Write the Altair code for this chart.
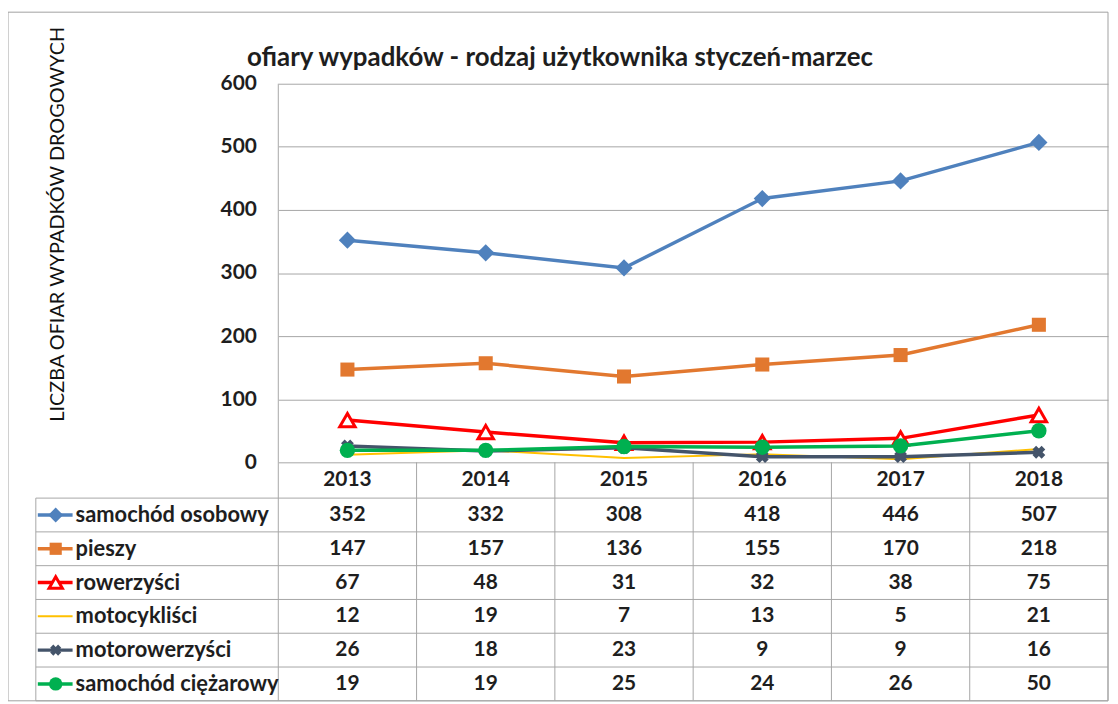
import altair as alt
import pandas as pd

# ---------------- data ----------------
years = [2013, 2014, 2015, 2016, 2017, 2018]
series = ["samochód osobowy", "pieszy", "rowerzyści", "motocykliści",
          "motorowerzyści", "samochód ciężarowy"]
v_osobowy = [352, 332, 308, 418, 446, 507]
v_pieszy = [147, 157, 136, 155, 170, 218]
v_rowerzysci = [67, 48, 31, 32, 38, 75]
v_motocyklisci = [12, 19, 7, 13, 5, 21]
v_motorowerzysci = [26, 18, 23, 9, 9, 16]
v_ciezarowy = [19, 19, 25, 24, 26, 50]
y_ticks = [0, 100, 200, 300, 400, 500, 600]
chart_title = "ofiary wypadków - rodzaj użytkownika styczeń-marzec"
y_title = "LICZBA OFIAR WYPADKÓW DROGOWYCH"

values = [v_osobowy, v_pieszy, v_rowerzysci, v_motocyklisci, v_motorowerzysci, v_ciezarowy]

# ---------------- styles ----------------
styles = [
    dict(color="#4F81BD", shape="diamond", size=300, sw=3.5),
    dict(color="#E2782F", shape="square", size=200, sw=3.5),
    dict(color="#FF0000", shape="triangle-up", size=240, sw=3.5, hollow=True),
    dict(color="#FFC000", shape=None, size=0, sw=2),
    dict(color="#44546A", shape="cross", size=170, sw=3.5, angle=45),
    dict(color="#00B050", shape="circle", size=240, sw=3.5),
]
FONT = "Lato"
TXT = "#1E1E1E"
GRID = "#A6A6A6"
FS = 21

# ---------------- layout (page pixels -> data units) ----------------
PL, PR = 280, 1115          # plot area left / right (page px)
PT, PB = 82, 463            # plot area top (600) / bottom (0)
BOX_L, BOX_T, BOX_B = 8, 10, 703
W, H = PR - PL, PB - PT
COLW = W / 6
PXU = H / 600


def xu(px):
    return years[0] - 0.5 + (px - PL) / COLW


def yu(px):
    return (PB - px) / PXU


HEADER_C = yu((463 + 499) / 2)
ROW_TOP = 499
ROW_H = (BOX_B - ROW_TOP) / 6
row_centers = [yu(ROW_TOP + ROW_H * (i + 0.5)) for i in range(6)]

XS = alt.Scale(domain=[years[0] - 0.5, years[-1] + 0.5], nice=False, zero=False)
YS = alt.Scale(domain=[y_ticks[0], y_ticks[-1]], nice=False, zero=False)

yaxis = alt.Axis(
    values=y_ticks, domain=False, ticks=False, tickSize=0,
    grid=True, gridColor=GRID, gridWidth=1,
    labelFont=FONT, labelFontSize=FS, labelFontWeight="bold", labelColor=TXT,
    labelPadding=22,
    title=y_title, titleFont=FONT, titleFontSize=20, titleFontWeight="normal",
    titleColor="#111111", titleAngle=270, titleX=58 - PL, titleY=223 - PT,
    titleAlign="center", titleBaseline="middle",
)


def X(f):
    return alt.X(f, type="quantitative", scale=XS, axis=None)


def Y(f):
    return alt.Y(f, type="quantitative", scale=YS, axis=yaxis)


layers = []

# outer frame
frame_df = pd.DataFrame({"x0": [xu(BOX_L)], "x1": [xu(PR)],
                         "y0": [yu(BOX_T)], "y1": [yu(BOX_B)]})
layers.append(
    alt.Chart(frame_df).mark_rect(fill="transparent", stroke="#A0A0A0", strokeWidth=1)
    .encode(x=X("x0"), x2="x1", y=Y("y0"), y2="y1")
)

# table horizontal lines
hl_df = pd.DataFrame({"y": [yu(ROW_TOP + ROW_H * i) for i in range(7)],
                      "x0": xu(36), "x1": years[-1] + 0.5})
layers.append(
    alt.Chart(hl_df).mark_rule(color=GRID, strokeWidth=1)
    .encode(x=X("x0"), x2="x1", y=Y("y"))
)

# vertical lines
vx = [xu(36), years[0] - 0.5] + [y + 0.5 for y in years]
vy0 = [yu(ROW_TOP), y_ticks[-1]] + [0] * 6
vl_df = pd.DataFrame({"x": vx, "y0": vy0, "y1": yu(BOX_B)})
layers.append(
    alt.Chart(vl_df).mark_rule(color=GRID, strokeWidth=1)
    .encode(x=X("x"), y=Y("y0"), y2="y1")
)

# series lines, markers, legend samples
for i, (name, vals, st) in enumerate(zip(series, values, styles)):
    df = pd.DataFrame({"year": years, "value": vals})
    leg = pd.DataFrame({"x0": [xu(38)], "x1": [xu(73)], "xm": [xu(56)],
                        "y": [row_centers[i]]})
    layers.append(alt.Chart(df).mark_line(color=st["color"], strokeWidth=st["sw"])
                  .encode(x=X("year"), y=Y("value")))
    layers.append(alt.Chart(leg).mark_rule(color=st["color"], strokeWidth=st["sw"])
                  .encode(x=X("x0"), x2="x1", y=Y("y")))
    if st["shape"]:
        kw = dict(shape=st["shape"], size=st["size"], opacity=1, filled=True,
                  color=st["color"])
        if st.get("hollow"):
            kw.update(fill="white", stroke=st["color"], strokeWidth=3)
        if st.get("angle"):
            kw.update(angle=st["angle"])
        layers.append(alt.Chart(df).mark_point(**kw)
                      .encode(x=X("year"), y=Y("value")))
        kw2 = dict(kw)
        kw2["size"] = st["size"] * 0.75
        layers.append(alt.Chart(leg).mark_point(**kw2)
                      .encode(x=X("xm"), y=Y("y")))

# table header
hd = pd.DataFrame({"year": years, "y": HEADER_C, "t": [str(y) for y in years]})
layers.append(alt.Chart(hd).mark_text(font=FONT, fontSize=FS, fontWeight="bold",
                                      color=TXT, align="center", baseline="middle")
              .encode(x=X("year"), y=Y("y"), text="t:N"))

# table values
rows = []
for i, vals in enumerate(values):
    for y, v in zip(years, vals):
        rows.append({"year": y, "y": row_centers[i], "t": str(v)})
tv = pd.DataFrame(rows)
layers.append(alt.Chart(tv).mark_text(font=FONT, fontSize=FS, fontWeight="bold",
                                      color=TXT, align="center", baseline="middle")
              .encode(x=X("year"), y=Y("y"), text="t:N"))

# row labels
lb = pd.DataFrame({"x": xu(76), "y": row_centers, "t": series})
layers.append(alt.Chart(lb).mark_text(font=FONT, fontSize=FS + 1, fontWeight="bold",
                                      color=TXT, align="left", baseline="middle")
              .encode(x=X("x"), y=Y("y"), text="t:N"))

chart = (
    alt.layer(*layers)
    .properties(
        width=W, height=H,
        title=alt.Title(chart_title, font=FONT, fontSize=26, fontWeight="bold",
                        color=TXT, anchor="middle", frame="group",
                        dx=(252 + 875) / 2 - (PL + PR) / 2,
                        offset=-81, baseline="alphabetic"),
        autosize=alt.AutoSizeParams(type="none"),
        padding={"left": PL - 8, "top": PT - 8, "right": 1118 - PR - 1,
                 "bottom": 704 - PB},
    )
    .configure(background="white", font=FONT)
    .configure_view(stroke="transparent", strokeWidth=0)
)

chart.save("out.html", embed_options={"renderer": "svg", "actions": False})
